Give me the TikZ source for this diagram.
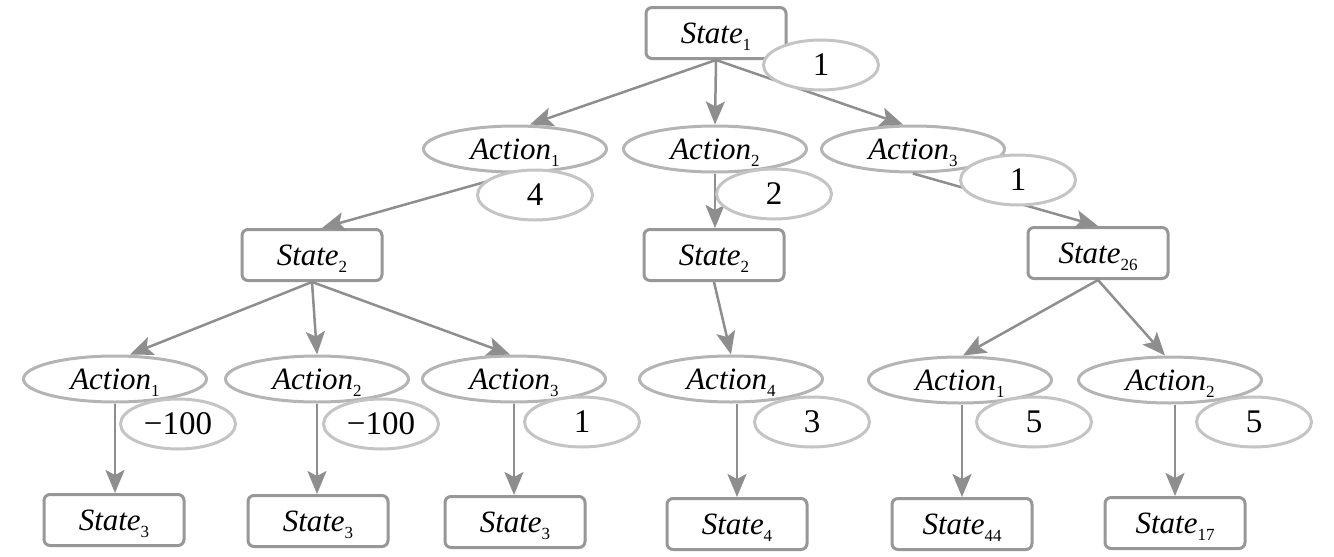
\documentclass[tikz,border=0pt]{standalone}
\usepackage{fontspec}
\setmainfont{Liberation Serif}
\usetikzlibrary{shapes.geometric,arrows.meta}
\definecolor{boxgray}{HTML}{979797}
\definecolor{arrgray}{HTML}{8E8E8E}
\definecolor{actgray}{HTML}{B4B4B4}
\definecolor{rewgray}{HTML}{C4C4C4}
\newcommand{\lsub}[1]{\raisebox{-7pt}[\height][0pt]{\fontsize{17}{17}\selectfont #1}}
\newcommand{\stt}[1]{\textit{State}\lsub{#1}}
\newcommand{\act}[1]{\textit{Action}\lsub{#1}}
\begin{document}
\begin{tikzpicture}[x=1pt,y=-1pt,
  statebox/.style={draw=boxgray,line width=3pt,rounded corners=6pt,fill=white,
    minimum width=140pt,minimum height=51pt,inner sep=0pt,font=\fontsize{31}{36}\selectfont},
  actell/.style={ellipse,draw=actgray,line width=3pt,fill=white,
    minimum width=183pt,minimum height=46pt,inner sep=0pt,font=\fontsize{31}{36}\selectfont},
  rewell/.style={ellipse,draw=rewgray,line width=3pt,fill=white,
    minimum width=115pt,minimum height=50pt,inner sep=0pt,font=\fontsize{33}{38}\selectfont},
  arr/.style={draw=arrgray,line width=2.5pt,-{Stealth[length=23pt,width=19pt,inset=5pt]}}]
  \useasboundingbox (0,0) rectangle (1334,557);
  % states and actions
  \node[statebox] (s1) at (716,33) {\stt{1}};
  \node[actell] (a11) at (515,149) {\act{1}};
  \node[actell] (a12) at (715,149) {\act{2}};
  \node[actell] (a13) at (913,149) {\act{3}};
  \node[statebox] (s2) at (312,255) {\stt{2}};
  \node[statebox] (s2b) at (714,255) {\stt{2}};
  \node[statebox] (s26) at (1098,253) {\stt{26}};
  \node[actell] (a21) at (115,379) {\act{1}};
  \node[actell] (a22) at (317,379) {\act{2}};
  \node[actell] (a23) at (514,379) {\act{3}};
  \node[actell] (a24) at (731,379) {\act{4}};
  \node[actell] (a31) at (960,380) {\act{1}};
  \node[actell] (a32) at (1170,380) {\act{2}};
  \node[statebox] (s3a) at (114,520) {\stt{3}};
  \node[statebox] (s3b) at (318,521) {\stt{3}};
  \node[statebox] (s3c) at (515,522) {\stt{3}};
  \node[statebox] (s4) at (737,524) {\stt{4}};
  \node[statebox] (s44) at (962,524) {\stt{44}};
  \node[statebox] (s17) at (1175,523) {\stt{17}};
  % transitions
  \draw[arr] (s1.south) -- ([xshift=15pt]a11.north);
  \draw[arr] (s1.south) -- (a12.north);
  \draw[arr] (s1.south) -- ([xshift=-10pt]a13.north);
  \draw[arr] (a11.south) -- ([xshift=10pt]s2.north);
  \draw[arr] (a12.south) -- (a12.south |- s2b.north);
  \draw[arr] (a13.south) -- (s26.north);
  \draw[arr] (s2.south) -- ([xshift=15pt]a21.north);
  \draw[arr] (s2.south) -- (a22.north);
  \draw[arr] (s2.south) -- ([xshift=-4pt]a23.north);
  \draw[arr] (s2b.south) -- (a24.north);
  \draw[arr] (s26.south) -- ([xshift=3pt]a31.north);
  \draw[arr] (s26.south) -- ([xshift=-5pt]a32.north);
  \draw[arr] (a21.south) -- (a21.south |- s3a.north);
  \draw[arr] (a22.south) -- (a22.south |- s3b.north);
  \draw[arr] (a23.south) -- (a23.south |- s3c.north);
  \draw[arr] (s4.north |- a24.south) -- (s4.north);
  \draw[arr] (s44.north |- a31.south) -- (s44.north);
  \draw[arr] (s17.north |- a32.south) -- (s17.north);
  % rewards
  \node[rewell] (r1) at (821,65) {1};
  \node[rewell] (r11) at (535,195) {4};
  \node[rewell] (r12) at (774,194) {2};
  \node[rewell] (r13) at (1018,180) {1};
  \node[rewell] (r21) at (178,424) {−100};
  \node[rewell] (r22) at (381,424) {−100};
  \node[rewell] (r23) at (582,422) {1};
  \node[rewell] (r24) at (812,422) {3};
  \node[rewell] (r31) at (1034,422) {5};
  \node[rewell] (r32) at (1254,422) {5};
\end{tikzpicture}
\end{document}
